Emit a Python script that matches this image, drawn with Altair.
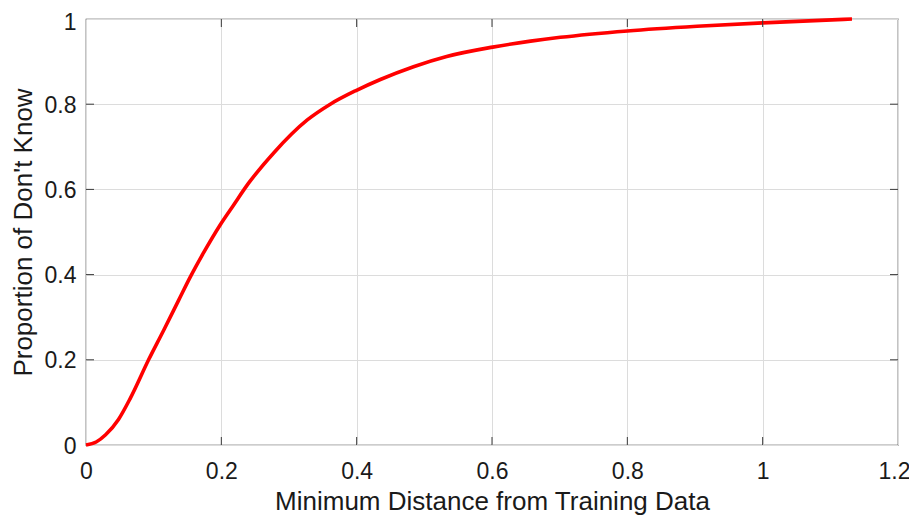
import altair as alt
import pandas as pd

# Curve
distance = [0, 0.015, 0.029, 0.048, 0.0656, 0.0925, 0.115, 0.137, 0.154, 0.174, 0.198,
            0.218, 0.240, 0.277, 0.327, 0.361, 0.399, 0.435, 0.484, 0.533, 0.601, 0.657,
            0.701, 0.8, 0.903, 1.0, 1.132]
proportion = [0, 0.007, 0.024, 0.060, 0.110, 0.2, 0.270, 0.340, 0.394, 0.452, 0.516,
              0.563, 0.614, 0.685, 0.763, 0.800, 0.832, 0.858, 0.888, 0.912, 0.934, 0.948,
              0.957, 0.972, 0.983, 0.991, 1.0]

x_ticks = [0, 0.2, 0.4, 0.6, 0.8, 1.0, 1.2]
y_ticks = [0, 0.2, 0.4, 0.6, 0.8, 1.0]

W, H = 812, 426
FONT = "Liberation Sans"
TICK_COLOR = "#3a3a3a"

df = pd.DataFrame({"d": distance, "p": proportion})
xt = pd.DataFrame({"v": x_ticks[1:-1]})
yt = pd.DataFrame({"v": y_ticks[1:-1]})

xscale = alt.Scale(domain=[0, 1.2], nice=False, zero=False)
yscale = alt.Scale(domain=[0, 1], nice=False, zero=False)

line = alt.Chart(df).mark_line(color="#ff0000", strokeWidth=3.6, interpolate="monotone").encode(
    x=alt.X("d:Q", scale=xscale,
            axis=alt.Axis(values=x_ticks, format="~g", title="Minimum Distance from Training Data",
                          titleBaseline="alphabetic", titleY=64, titleX=W / 2,
                          labelOffset={"condition": {"test": "datum.value >= 1.19", "value": -4},
                                       "value": 0})),
    y=alt.Y("p:Q", scale=yscale,
            axis=alt.Axis(values=y_ticks, format="~g", title="Proportion of Don't Know",
                          titleBaseline="alphabetic", titleX=-55, titleY=H / 2,
                          labelOffset={"condition": {"test": "datum.value >= 0.99", "value": 3},
                                       "value": 1})),
)

tick_bottom = alt.Chart(xt).mark_rule(color=TICK_COLOR, strokeWidth=1).encode(
    x=alt.X("v:Q", scale=xscale), y=alt.value(H), y2=alt.value(H - 8))
tick_top = alt.Chart(xt).mark_rule(color=TICK_COLOR, strokeWidth=1).encode(
    x=alt.X("v:Q", scale=xscale), y=alt.value(0), y2=alt.value(8))
tick_left = alt.Chart(yt).mark_rule(color=TICK_COLOR, strokeWidth=1).encode(
    y=alt.Y("v:Q", scale=yscale), x=alt.value(0), x2=alt.value(8))
tick_right = alt.Chart(yt).mark_rule(color=TICK_COLOR, strokeWidth=1).encode(
    y=alt.Y("v:Q", scale=yscale), x=alt.value(W), x2=alt.value(W - 8))

chart = alt.layer(line, tick_bottom, tick_top, tick_left, tick_right).properties(
    width=W, height=H,
    autosize=alt.AutoSizeParams(type="none"),
    padding={"left": 78, "top": 11, "right": 11, "bottom": 72},
).configure_view(
    stroke="#3a3a3a", strokeWidth=1.2
).configure_axis(
    domain=False, ticks=False, grid=True, gridColor="#dcdcdc", gridWidth=1,
    labelFlush=False, labelOverlap=False,
    labelFont=FONT, labelFontSize=23, labelColor="#1a1a1a",
    titleFont=FONT, titleFontSize=26, titleColor="#1a1a1a", titleFontWeight="normal",
).configure_axisX(
    labelPadding=15,
).configure_axisY(
    labelPadding=10,
)

chart.save("out.html", embed_options={"renderer": "svg", "actions": False})
